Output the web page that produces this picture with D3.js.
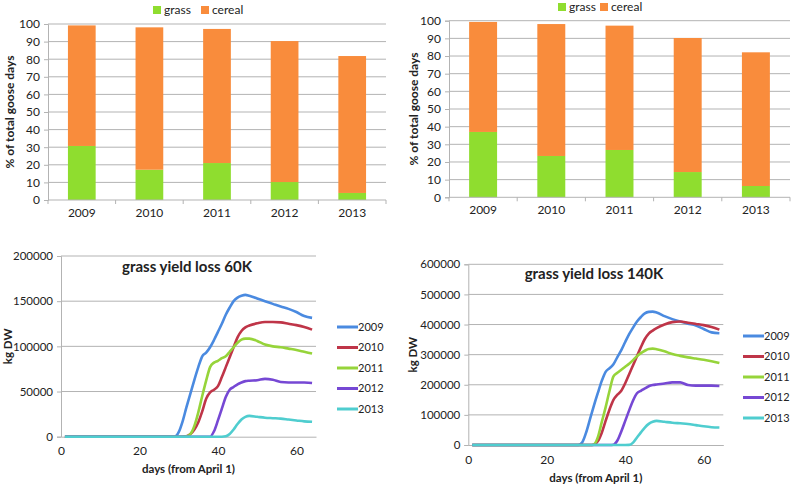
<!DOCTYPE html>
<html><head><meta charset="utf-8">
<script src="https://cdn.jsdelivr.net/npm/d3@7"></script>
<style>
body{margin:0;background:#fff;}
svg text{font-family:Lato,"Open Sans",sans-serif;fill:#222;}
</style></head>
<body><svg id="c" width="793" height="484"></svg>
<script>
// ---- data ----
const years = ["2009","2010","2011","2012","2013"];
const barSeries = ["grass","cereal"];
const grass60 = [30.7, 17.2, 21.0, 10.2, 4.0];
const cereal60 = [68.5, 80.9, 76.2, 80.1, 77.8];
const grass140 = [37.0, 23.4, 26.8, 14.3, 6.4];
const cereal140 = [62.3, 74.7, 70.4, 75.9, 75.7];
const barTicks = [0,10,20,30,40,50,60,70,80,90,100];

const days = [1,10,20,28,29,30,31,32,33,34,35,36,37,38,39,40,41,42,43,44,45,46,47,48,50,52,54,56,58,60,62,64];
const loss60_2009 = [0,0,0,0,0,5000,17000,33000,48000,63000,77000,89000,93000,99000,107000,116000,125000,135000,143000,150000,154000,156000,157000,156000,153000,150000,147000,144000,141500,138000,133500,131500];
const loss60_2010 = [0,0,0,0,0,0,0,500,3000,8000,16000,28000,42000,49000,52000,56000,66000,77000,88000,99000,110000,117000,121000,123000,125500,127000,127000,126500,125000,123500,121500,118500];
const loss60_2011 = [0,0,0,0,0,0,0,500,3000,12000,27000,45000,62000,77000,82000,84000,87000,89000,94000,99000,104000,107500,108500,108500,106000,102000,100000,99000,97500,96000,94000,92000];
const loss60_2012 = [0,0,0,0,0,0,0,0,0,0,0,0,0,0,6000,18000,31000,44000,52000,55000,58000,60000,61500,62000,62500,64000,63000,60500,60000,60000,60000,59500];
const loss60_2013 = [0,0,0,0,0,0,0,0,0,0,0,0,0,0,0,0,0,500,3000,8000,14000,19000,22000,23000,22000,21000,20500,20000,19000,18000,17000,16500];
const loss140_2009 = [0,0,0,0,8000,40000,85000,130000,172000,212000,243000,255000,268000,292000,315000,342000,368000,390000,410000,425000,437000,442000,443000,440000,428000,418000,410000,403000,397000,385000,374000,371000];
const loss140_2010 = [0,0,0,0,0,0,0,1000,12000,40000,80000,118000,150000,167000,180000,205000,235000,265000,295000,325000,352000,370000,380000,388000,400000,408000,410000,406000,402000,398000,392000,383000];
const loss140_2011 = [0,0,0,0,0,0,0,2000,25000,75000,125000,180000,228000,240000,250000,260000,270000,282000,295000,305000,313000,319000,320000,318000,311000,302000,296000,291000,287000,283000,278000,272000];
const loss140_2012 = [0,0,0,0,0,0,0,0,0,0,0,0,1000,15000,45000,80000,115000,148000,172000,180000,188000,195000,199000,201000,204000,208000,208000,199000,197000,197000,197000,196000];
const loss140_2013 = [0,0,0,0,0,0,0,0,0,0,0,0,0,0,0,0,500,8000,25000,42000,58000,70000,77000,80000,77000,74000,72000,70000,66000,62000,59000,58000];
const dayTicks = [0,20,40,60];
const ticks60 = [0,50000,100000,150000,200000];
const ticks140 = [0,100000,200000,300000,400000,500000,600000];

const barColors = {grass:"#8fdd2f", cereal:"#f98c3c"};
const lineColors = ["#4a8ae0","#bf3548","#96d43a","#7648d4","#4fcdcf"];
const gridCol = "#b3b3b3";

const svg = d3.select("#c");

function barChart(o){
  const g = svg.append("g");
  const x = d3.scaleBand().domain(years).range([o.x0,o.x1]).paddingInner(0.59).paddingOuter(0.295);
  const y = d3.scaleLinear().domain([0,100]).range([o.y1,o.y0]);
  g.selectAll(".gl").data(barTicks.filter(t=>t>0)).join("line")
    .attr("x1",o.x0).attr("x2",o.x1).attr("y1",d=>y(d)).attr("y2",d=>y(d))
    .attr("stroke",gridCol).attr("stroke-width",1);
  const rows = years.map((yr,i)=>({year:yr, grass:o.grass[i], cereal:o.cereal[i]}));
  const stack = d3.stack().keys(barSeries)(rows);
  g.selectAll(".s").data(stack).join("g").attr("fill",d=>barColors[d.key])
    .selectAll("rect").data(d=>d).join("rect")
    .attr("x",d=>x(d.data.year)).attr("width",x.bandwidth())
    .attr("y",d=>y(d[1])).attr("height",d=>y(d[0])-y(d[1]));
  const ya = g.append("g").attr("transform",`translate(${o.x0},0)`)
    .call(d3.axisLeft(y).tickValues(barTicks).tickSize(4).tickPadding(4));
  ya.select(".domain").attr("stroke",gridCol);
  ya.selectAll(".tick line").attr("stroke",gridCol);
  ya.selectAll("text").style("font-size","12px").attr("fill","#222");
  const xa = g.append("g").attr("transform",`translate(0,${o.y1})`)
    .call(d3.axisBottom(x).tickSize(0).tickPadding(8));
  xa.select(".domain").attr("stroke",gridCol).attr("d",`M${o.x0},0H${o.x1}`);
  xa.selectAll("text").style("font-size","12px").attr("fill","#222");
  const step = (o.x1-o.x0)/years.length;
  g.selectAll(".xt").data(d3.range(years.length+1)).join("line")
    .attr("x1",d=>o.x0+d*step).attr("x2",d=>o.x0+d*step)
    .attr("y1",o.y1).attr("y2",o.y1+4).attr("stroke",gridCol);
  g.append("text").attr("transform",`translate(${o.tx},${(o.y0+o.y1)/2}) rotate(-90)`)
    .attr("text-anchor","middle").attr("dy","0.35em")
    .style("font-size","12px").style("font-weight","bold").text("% of total goose days");
  barSeries.forEach((k,i)=>{
    g.append("rect").attr("x",o.lx[i]).attr("y",o.ly-4).attr("width",8).attr("height",8).attr("fill",barColors[k]);
    g.append("text").attr("x",o.lx[i]+11).attr("y",o.ly).attr("dy","0.35em")
      .style("font-size","12px").text(k);
  });
}

function lineChart(o){
  const g = svg.append("g");
  const x = d3.scaleLinear().domain([0,65]).range([o.x0,o.x1]);
  const y = d3.scaleLinear().domain([0,o.ymax]).range([o.y1,o.y0]);
  g.selectAll(".gl").data(o.ticks.filter(t=>t>0)).join("line")
    .attr("x1",o.x0).attr("x2",o.x1).attr("y1",d=>y(d)).attr("y2",d=>y(d))
    .attr("stroke",gridCol);
  const ya = g.append("g").attr("transform",`translate(${o.x0},0)`)
    .call(d3.axisLeft(y).tickValues(o.ticks).tickSize(4).tickPadding(4).tickFormat(d3.format("d")));
  ya.select(".domain").attr("stroke",gridCol);
  ya.selectAll(".tick line").attr("stroke",gridCol);
  ya.selectAll("text").style("font-size","11.5px").attr("fill","#222");
  const xa = g.append("g").attr("transform",`translate(0,${o.y1})`)
    .call(d3.axisBottom(x).tickValues(dayTicks).tickSize(0).tickPadding(10));
  xa.select(".domain").attr("stroke",gridCol);
  xa.selectAll("text").style("font-size","12px").attr("fill","#222");
  const line = d3.line().x((d,i)=>x(days[i])).y(d=>y(d)).curve(d3.curveMonotoneX);
  o.series.forEach((s,i)=>{
    g.append("path").attr("d",line(s)).attr("fill","none")
      .attr("stroke",lineColors[i]).attr("stroke-width",2.6).attr("stroke-linejoin","round");
  });
  g.append("text").attr("x",o.titleX).attr("y",o.titleY).attr("text-anchor","middle").attr("dy","0.35em")
    .style("font-size","15px").style("font-weight","bold").text(o.title);
  g.append("text").attr("x",(o.x0+o.x1)/2).attr("y",o.xtY).attr("text-anchor","middle").attr("dy","0.35em")
    .style("font-size","11.5px").style("font-weight","bold").text("days (from April 1)");
  g.append("text").attr("transform",`translate(${o.ytX},${(o.y0+o.y1)/2}) rotate(-90)`)
    .attr("text-anchor","middle").attr("dy","0.35em")
    .style("font-size","11.5px").style("font-weight","bold").text("kg DW");
  years.forEach((yr,i)=>{
    const ly = o.ly0 + i*o.lstep;
    g.append("line").attr("x1",o.lx).attr("x2",o.lx+21).attr("y1",ly).attr("y2",ly)
      .attr("stroke",lineColors[i]).attr("stroke-width",3);
    g.append("text").attr("x",o.lx+21).attr("y",ly).attr("dy","0.35em").style("font-size","11px").text(yr);
  });
}

barChart({x0:48,x1:386,y0:24,y1:200,grass:grass60,cereal:cereal60,tx:10,lx:[153,201],ly:10});
barChart({x0:449,x1:790,y0:20.7,y1:197.3,grass:grass140,cereal:cereal140,tx:414,lx:[558,600],ly:7});
lineChart({x0:61,x1:316,y0:256,y1:436.7,ymax:200000,ticks:ticks60,
  series:[loss60_2009,loss60_2010,loss60_2011,loss60_2012,loss60_2013],
  title:"grass yield loss 60K",titleX:187,titleY:267,xtY:469,ytX:8,lx:337,ly0:327,lstep:20.5});
lineChart({x0:468.3,x1:723.3,y0:264.3,y1:445,ymax:600000,ticks:ticks140,
  series:[loss140_2009,loss140_2010,loss140_2011,loss140_2012,loss140_2013],
  title:"grass yield loss 140K",titleX:594,titleY:274,xtY:477.5,ytX:413,lx:743,ly0:336,lstep:20.5});
</script></body></html>
